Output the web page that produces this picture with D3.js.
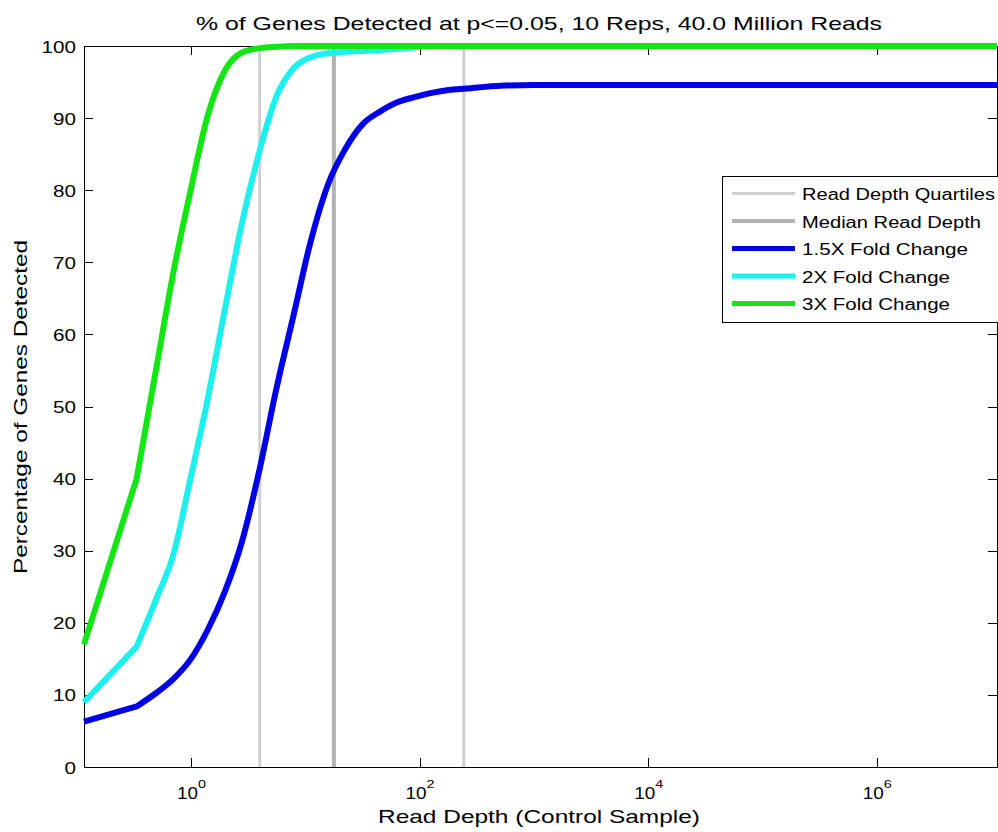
<!DOCTYPE html>
<html><head><meta charset="utf-8">
<script src="https://cdn.jsdelivr.net/npm/d3@7"></script>
<style>
body{margin:0;background:#fff}
svg{display:block;overflow:hidden}
text{font-family:"Liberation Sans",Arial,Helvetica,sans-serif;fill:#000}
</style>
</head><body>
<svg id="c" width="998" height="832"></svg>
<script>
// ---- data ----
const depth = [0.116, 0.335, 0.5, 0.7, 1, 1.4, 2, 2.8, 4, 5.6, 8, 11, 16, 22, 32, 45, 64, 90, 128, 180, 256, 512, 1024, 4096, 1.127e7];
const fc15 = [6.3, 8.4, 10.3, 12.2, 15, 19, 24.5, 31.3, 41.4, 52.5, 63, 72.5, 81, 85.5, 89.2, 90.9, 92.2, 92.9, 93.5, 93.9, 94.1, 94.5, 94.6, 94.6, 94.6];
const fc2  = [9, 16.7, 23.4, 29.4, 40.3, 51, 63.8, 75.5, 85.5, 93, 97, 98.4, 99, 99.2, 99.3, 99.4, 99.6, 99.8, 100, 100, 100, 100, 100, 100, 100];
const fc3  = [17, 40, 55.5, 68.5, 80.2, 90.3, 96.7, 99.1, 99.7, 99.9, 100, 100, 100, 100, 100, 100, 100, 100, 100, 100, 100, 100, 100, 100, 100];
const quartiles = [4.0, 244];
const medianDepth = [17.8];
const yTicks = [0, 10, 20, 30, 40, 50, 60, 70, 80, 90, 100];
const xTickExps = [0, 2, 4, 6];
const legendLabels = ["Read Depth Quartiles", "Median Read Depth", "1.5X Fold Change", "2X Fold Change", "3X Fold Change"];
const titleText = "% of Genes Detected at p<=0.05, 10 Reps, 40.0 Million Reads";
const xLabelText = "Read Depth (Control Sample)";
const yLabelText = "Percentage of Genes Detected";

// ---- layout ----
const L = 84, R = 997, T = 46, B = 767;
const svg = d3.select("#c");
const x = d3.scaleLog().domain([0.116, 1.127e7]).range([L, R]);
const y = d3.scaleLinear().domain([0, 100]).range([B, T]);

function fit(sel, len) { return sel.attr("textLength", len).attr("lengthAdjust", "spacingAndGlyphs"); }

svg.append("rect").attr("x", L).attr("y", T).attr("width", R - L).attr("height", B - T).attr("fill", "#fff");

// vertical reference lines
svg.append("g").selectAll("line").data(quartiles).join("line")
  .attr("x1", d => x(d)).attr("x2", d => x(d)).attr("y1", T).attr("y2", B)
  .attr("stroke", "#cfcfcf").attr("stroke-width", 3);
svg.append("g").selectAll("line").data(medianDepth).join("line")
  .attr("x1", d => x(d)).attr("x2", d => x(d)).attr("y1", T).attr("y2", B)
  .attr("stroke", "#b2b2b2").attr("stroke-width", 4);

// axes
function styleAxis(g) {
  g.selectAll("path.domain").attr("stroke", "#000").attr("stroke-width", 1).attr("shape-rendering", "crispEdges");
  g.selectAll(".tick line").attr("stroke", "#000").attr("stroke-width", 1).attr("shape-rendering", "crispEdges");
  g.attr("font-family", null).attr("font-size", null);
}
const xTickVals = xTickExps.map(e => Math.pow(10, e));
svg.append("g").attr("transform", `translate(0,${B})`)
  .call(d3.axisBottom(x).tickValues(xTickVals).tickSize(-9).tickSizeOuter(0).tickFormat(""))
  .call(styleAxis);
svg.append("g").attr("transform", `translate(0,${T})`)
  .call(d3.axisTop(x).tickValues(xTickVals).tickSize(-9).tickSizeOuter(0).tickFormat(""))
  .call(styleAxis);
const yAx = svg.append("g").attr("transform", `translate(${L},0)`)
  .call(d3.axisLeft(y).tickValues(yTicks).tickSize(-9).tickSizeOuter(0).tickPadding(8))
  .call(styleAxis);
yAx.selectAll(".tick text")
  .attr("font-size", 16).attr("dy", null).attr("y", 6).attr("fill", "#000")
  .each(function(d) { fit(d3.select(this), String(d).length * 11.5); });
svg.append("g").attr("transform", `translate(${R},0)`)
  .call(d3.axisRight(y).tickValues(yTicks).tickSize(-9).tickSizeOuter(0).tickFormat(""))
  .call(styleAxis);

// x tick labels 10^n
const xl = svg.append("g");
xTickExps.forEach(e => {
  const px = x(Math.pow(10, e));
  fit(xl.append("text").attr("x", px - 14).attr("y", 799).attr("font-size", 16).text("10"), 21);
  fit(xl.append("text").attr("x", px + 7).attr("y", 788).attr("font-size", 11).text(String(e)), 8);
});

// curves: straight first segment, smooth afterwards
const linLine = d3.line().x(d => x(d[0])).y(d => y(d[1]));
const smoothLine = d3.line().x(d => x(d[0])).y(d => y(d[1])).curve(d3.curveMonotoneX);
function curvePath(vals) {
  const pts = vals.map((v, i) => [depth[i], v]);
  return linLine(pts.slice(0, 2)) + smoothLine(pts.slice(1)).replace(/^M/, "L");
}
const series = [
  {v: fc15, c: "#0000e6"},
  {v: fc2,  c: "#1ef0f0"},
  {v: fc3,  c: "#14e614"}
];
svg.append("g").selectAll("path").data(series).join("path")
  .attr("d", d => curvePath(d.v)).attr("fill", "none").attr("stroke", d => d.c)
  .attr("stroke-width", 6).attr("stroke-linejoin", "round").attr("stroke-linecap", "butt");

// title and axis labels
fit(svg.append("text").attr("x", 539).attr("y", 30).attr("text-anchor", "middle").attr("font-size", 19).text(titleText), 686);
fit(svg.append("text").attr("x", 539).attr("y", 823).attr("text-anchor", "middle").attr("font-size", 19).text(xLabelText), 322);
fit(svg.append("text").attr("transform", "translate(27,407) rotate(-90)").attr("text-anchor", "middle").attr("font-size", 19).text(yLabelText), 334);

// legend
const lg = svg.append("g");
lg.append("rect").attr("x", 722.5).attr("y", 176.5).attr("width", 300).attr("height", 146)
  .attr("fill", "#fff").attr("stroke", "#000").attr("stroke-width", 1);
const legendColors = ["#cfcfcf", "#b2b2b2", "#0000e6", "#1ef0f0", "#14e614"];
const legendWidths = [3, 4, 5, 5, 5];
const legendTextLen = [193, 179, 166, 148, 148];
legendLabels.forEach((t, i) => {
  const ly = 193.5 + i * 27.5;
  lg.append("line").attr("x1", 732).attr("x2", 795).attr("y1", ly).attr("y2", ly)
    .attr("stroke", legendColors[i]).attr("stroke-width", legendWidths[i]);
  fit(lg.append("text").attr("x", 802).attr("y", ly + 6.5).attr("font-size", 16).text(t), legendTextLen[i]);
});
</script>
</body></html>
